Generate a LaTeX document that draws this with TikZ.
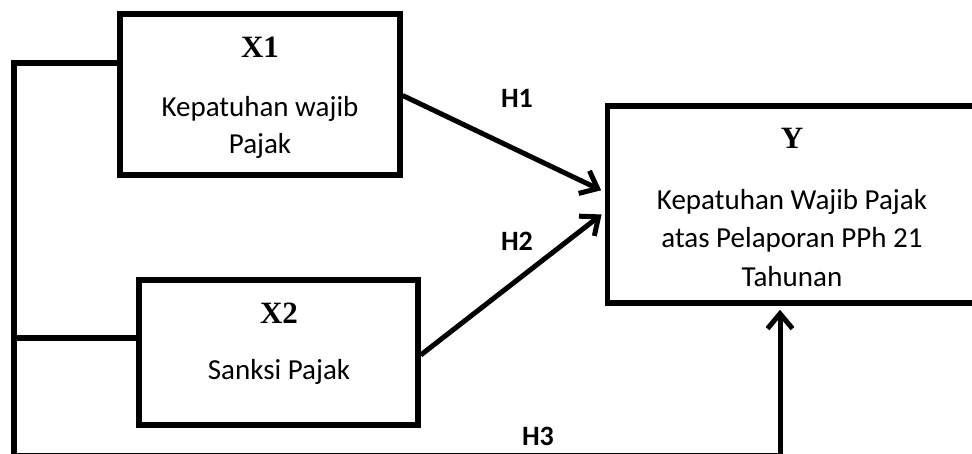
\documentclass[tikz,border=0pt]{standalone}
\usepackage{fontspec}
\setmainfont{Carlito}
\newfontfamily\tnr{Liberation Serif}
\usetikzlibrary{arrows.meta}
\begin{document}
\begin{tikzpicture}[x=1pt,y=-1pt,
  boxs/.style={draw, line width=5.5pt, rectangle, inner sep=0pt},
  conn/.style={line width=5.5pt},
  arr/.style={line width=5pt, line join=round, -{Straight Barb[length=15pt,width=25pt,line width=5pt]}, shorten >=4pt},
  title/.style={font=\tnr\bfseries\fontsize{31}{36}\selectfont},
  body/.style={font=\fontsize{29}{37}\selectfont, align=center},
  bodyy/.style={font=\fontsize{29}{38.5}\selectfont, align=center},
  hlab/.style={font=\bfseries\fontsize{28}{32}\selectfont}]
\useasboundingbox (0,0) rectangle (972,454);
% boxes
\node[boxs, minimum width=280pt, minimum height=161pt] (x1) at (260,94.5) {};
\node[boxs, minimum width=279pt, minimum height=145pt] (x2) at (278.5,352.5) {};
\node[boxs, minimum width=400pt, minimum height=197pt] (ybox) at (807.5,204.5) {};
% texts
\node[title] (x1t) at (260,47) {X1};
\node[body] (x1b) at (260,127) {Kepatuhan wajib\\Pajak};
\node[title] (x2t) at (279,313) {X2};
\node[body] (x2b) at (279,372) {Sanksi Pajak};
\node[title] (yt) at (792,138) {Y};
\node[bodyy] (yb) at (792,238) {Kepatuhan Wajib Pajak\\atas Pelaporan PPh 21\\Tahunan};
\node[hlab] (h1) at (517,98) {H1};
\node[hlab] (h2) at (517,241) {H2};
\node[hlab] (h3) at (538,436) {H3};
% frame lines
\coordinate (tl) at (14,63);
\coordinate (ml) at (14,338);
\coordinate (bl) at (14,455);
\coordinate (br) at (780,455);
\draw[conn] (tl -| x1.west) -- (tl) -- (bl);
\draw[conn] (ml) -- (ml -| x2.west);
\draw[arr] (bl) -- (br) -- (br |- ybox.south);
% arrows
\draw[arr] ([yshift=-1pt]x1.east) -- (ybox.west |- 0,192);
\draw[arr] ([yshift=-2.5pt]x2.east) -- (ybox.west |- 0,212);
\end{tikzpicture}
\end{document}
